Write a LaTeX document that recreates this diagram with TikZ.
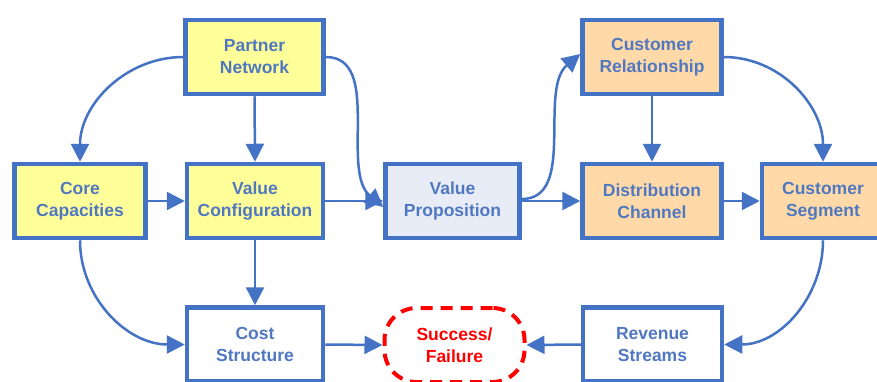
\documentclass[tikz,border=0pt]{standalone}
\usepackage{fontspec}
\setmainfont{Liberation Sans}
\usetikzlibrary{arrows.meta}
\definecolor{bblue}{HTML}{4472C4}
\definecolor{tblue}{HTML}{5078C0}
\definecolor{yfill}{HTML}{FFFF99}
\definecolor{ofill}{HTML}{FFDAA8}
\definecolor{lfill}{HTML}{E8ECF7}
\definecolor{rred}{HTML}{FF0000}
\tikzset{
  box/.style={draw=bblue, line width=4.5pt, rectangle, minimum width=136pt, minimum height=74pt,
    align=center, text=tblue, font=\fontsize{17.5}{22}\selectfont\bfseries, inner sep=0pt},
  yel/.style={box, fill=yfill},
  ora/.style={box, fill=ofill},
  lbl/.style={box, fill=lfill},
  wht/.style={box, fill=white},
  goal/.style={draw=rred, line width=4pt, dash pattern=on 12pt off 8pt, rectangle, rounded corners=32pt,
    minimum width=140pt, minimum height=74pt, align=center, text=rred, font=\fontsize{17.5}{22}\selectfont\bfseries},
  conn/.style={draw=bblue, line width=2.5pt, -{Triangle[length=18pt,width=18pt]}},
}
\begin{document}
\begin{tikzpicture}[x=1pt,y=-1pt]
\useasboundingbox[fill=white] (0,0) rectangle (877,381);
\node[yel, minimum width=138pt] (pn) at (254.5,57) {Partner\\Network};
\node[yel, minimum width=131pt] (cc) at (80,201) {Core\\Capacities};
\node[yel] (vc) at (255,201) {Value\\Configuration};
\node[lbl, minimum width=134pt] (vp) at (452.5,201) {Value\\Proposition};
\node[ora, minimum width=139pt] (cr) at (652,57) {Customer\\Relationship};
\node[ora, minimum width=139pt] (dc) at (652,201) {Distribution\\Channel};
\node[ora, minimum width=122pt] (cs) at (823,201) {Customer\\Segment};
\node[wht] (cost) at (255,344.5) {Cost\\Structure};
\node[goal] (sf) at (454.5,345) {Success/\\Failure};
\node[wht, minimum width=139pt] (rev) at (652.5,344.5) {Revenue\\Streams};

\draw[conn] (pn.west) to[out=180,in=90] (cc.north);
\draw[conn] (pn.south) -- (vc.north);
\draw[conn] (pn.east) to[out=0,in=140,looseness=0.9] ([yshift=-6pt]vp.west);
\draw[conn] (cc.east) -- (vc.west);
\draw[conn] (vc.east) -- (vp.west);
\draw[conn] ([yshift=2pt]vp.east) to[out=0,in=220,looseness=0.9] ([yshift=3pt]cr.west);
\draw[conn] (vp.east) -- (dc.west);
\draw[conn] (cr.south) -- (dc.north);
\draw[conn] (cr.east) to[out=0,in=90] (cs.north);
\draw[conn] (dc.east) -- (cs.west);
\draw[conn] (cc.south) to[out=-90,in=180] (cost.west);
\draw[conn] (vc.south) -- (cost.north);
\draw[conn] (cost.east) -- (sf.west);
\draw[conn] (cs.south) to[out=-90,in=0] (rev.east);
\draw[conn] (rev.west) -- (sf.east);
\end{tikzpicture}
\end{document}
